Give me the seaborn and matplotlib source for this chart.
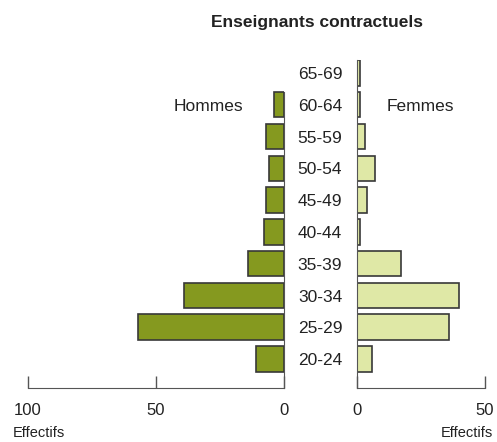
import matplotlib
matplotlib.use("Agg")
import matplotlib.pyplot as plt
import matplotlib.transforms as mtransforms
import pandas as pd
import seaborn as sns

# age groups, top to bottom
ages = ["65-69", "60-64", "55-59", "50-54", "45-49",
        "40-44", "35-39", "30-34", "25-29", "20-24"]
hommes = [0, 4, 7, 6, 7, 8, 14, 39, 57, 11]
femmes = [1, 1, 3, 7, 4, 1, 17, 40, 36, 6]

df = pd.DataFrame({"age": ages, "hommes": hommes, "femmes": femmes})

sns.set_style("white")
plt.rcParams["font.family"] = ["Liberation Sans", "DejaVu Sans"]

col_h = "#85991f"
col_f = "#dfe8a6"
edge = "#383838"
txt = "#222222"
spine_col = "#555555"

fig = plt.figure(figsize=(4.97, 4.42), dpi=100)
bottom, height = 0.1222, 0.7421
ax_h = fig.add_axes([28 / 497, bottom, 256 / 497, height])
ax_f = fig.add_axes([357 / 497, bottom, 128 / 497, height])

sns.barplot(data=df, x="hommes", y="age", order=ages, orient="h",
            color=col_h, edgecolor=edge, linewidth=1.2, saturation=1,
            width=0.8, ax=ax_h)
sns.barplot(data=df, x="femmes", y="age", order=ages, orient="h",
            color=col_f, edgecolor=edge, linewidth=1.2, saturation=1,
            width=0.8, ax=ax_f)

# empty bars should not leave a stroke
for p in ax_h.patches:
    if p.get_width() == 0:
        p.set_visible(False)

ylim = (9.9125, -0.409)
ax_h.set_xlim(100, 0)
ax_f.set_xlim(0, 50)
for ax in (ax_h, ax_f):
    ax.set_ylim(*ylim)
    ax.set_xlabel("")
    ax.set_ylabel("")
    ax.set_yticks([])
    ax.set_facecolor("none")
    ax.tick_params(axis="x", bottom=True, direction="in", length=8.5,
                   width=1, color=spine_col, labelsize=12, labelcolor=txt,
                   pad=11)
    ax.spines["top"].set_visible(False)
    ax.spines["bottom"].set_color(spine_col)

ax_h.set_xticks([100, 50, 0])
ax_f.set_xticks([0, 50])
ax_h.spines["left"].set_visible(False)
ax_h.spines["right"].set_color(spine_col)
ax_h.spines["right"].set_bounds(ylim[0], 0.6)
ax_f.spines["right"].set_visible(False)
ax_f.spines["left"].set_color(spine_col)
ax_f.spines["left"].set_bounds(ylim[0], -0.4)

# age labels in the middle
tr = mtransforms.blended_transform_factory(fig.transFigure, ax_h.transData)
for i, a in enumerate(ages):
    ax_h.text(320 / 497, i + 0.05, a, transform=tr, ha="center", va="center",
              fontsize=12.5, color=txt, clip_on=False)

ax_h.text(16, 1.05, "Hommes", ha="right", va="center", fontsize=12.5, color=txt)
ax_f.text(11.7, 1.05, "Femmes", ha="left", va="center", fontsize=12.5, color=txt)

fig.text(317 / 497, 1 - 22 / 442, "Enseignants contractuels", ha="center",
         va="center", fontsize=12.5, fontweight="bold", color=txt)
fig.text(39 / 497, 1 - 433 / 442, "Effectifs", ha="center", va="center",
         fontsize=10.5, color=txt)
fig.text(467 / 497, 1 - 433 / 442, "Effectifs", ha="center", va="center",
         fontsize=10.5, color=txt)

fig.savefig("out.png", dpi=100)
